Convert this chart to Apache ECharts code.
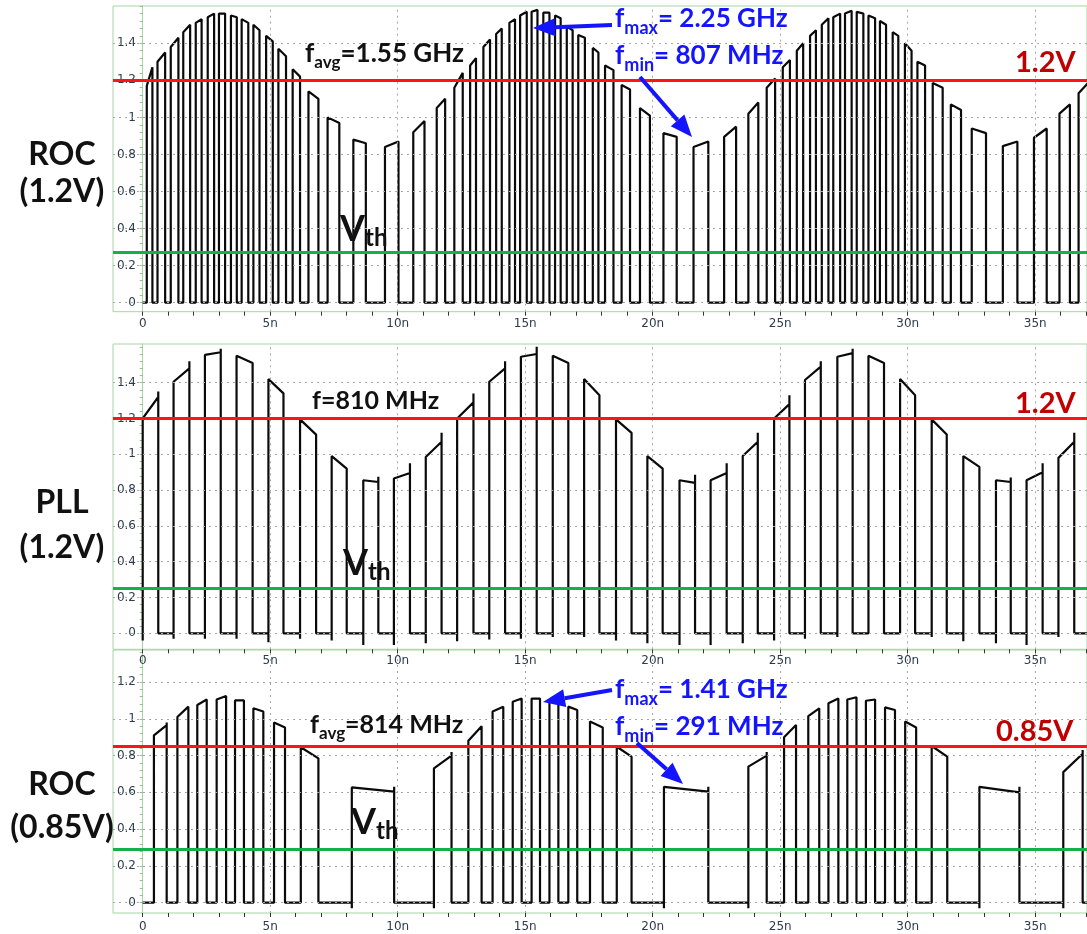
<!DOCTYPE html>
<html><head><meta charset="utf-8">
<script src="https://cdn.jsdelivr.net/npm/echarts@6/dist/echarts.min.js"></script>
<style>html,body{margin:0;padding:0;background:#fff}#c{width:1087px;height:934px}</style>
</head><body><div id="c"></div><script>
// ---------- axis ticks ----------
const xTickVals = [0, 5, 10, 15, 20, 25, 30, 35];
const xTickLabels = ['0', '5n', '10n', '15n', '20n', '25n', '30n', '35n'];
const yTickVals1 = [0, 0.2, 0.4, 0.6, 0.8, 1, 1.2, 1.4];
const yTickLabels1 = ['0', '0.2', '0.4', '0.6', '0.8', '1', '1.2', '1.4'];
const yTickVals3 = [0, 0.2, 0.4, 0.6, 0.8, 1, 1.2];
const yTickLabels3 = ['0', '0.2', '0.4', '0.6', '0.8', '1', '1.2'];

// ---------- reference levels ----------
const supplyLevels = [1.2, 1.2, 0.85];
const supplyLabels = ['1.2V', '1.2V', '0.85V'];
const vthLevels = [0.265, 0.253, 0.29];

// ---------- Panel 1 : ROC (1.2V) pulses (ns, V) ----------
const p1Rise = [0.16,0.58,1.10,1.59,2.08,2.55,2.99,3.46,3.88,4.34,4.84,5.32,5.88,6.50,7.25,8.26,9.50,10.61,11.53,12.22,12.84,13.36,13.86,14.38,14.80,15.25,15.71,16.17,16.63,17.08,17.65,18.13,18.78,19.50,20.42,21.60,22.80,23.75,24.47,25.10,25.65,26.17,26.63,27.08,27.54,28.00,28.46,28.91,29.41,29.89,30.38,30.98,31.69,32.51,33.73,34.95,35.95,36.70];
const p1Fall = [0.38,0.88,1.40,1.86,2.31,2.80,3.23,3.69,4.14,4.58,5.10,5.62,6.17,6.89,7.71,8.75,10.03,11.05,11.86,12.55,13.07,13.62,14.08,14.60,15.06,15.48,15.95,16.39,16.86,17.34,17.87,18.46,19.11,19.89,20.94,22.18,23.27,24.14,24.80,25.38,25.90,26.40,26.89,27.35,27.80,28.26,28.72,29.15,29.63,30.15,30.68,31.37,32.09,33.07,34.30,35.45,36.36,37.30];
const p1Start = [1.17,1.30,1.38,1.46,1.51,1.54,1.56,1.55,1.53,1.50,1.44,1.37,1.26,1.14,1.00,0.88,0.84,0.92,1.05,1.16,1.28,1.38,1.45,1.51,1.55,1.57,1.565,1.55,1.49,1.445,1.375,1.28,1.175,1.05,0.915,0.84,0.895,1.02,1.16,1.27,1.36,1.44,1.50,1.54,1.56,1.57,1.55,1.52,1.46,1.40,1.30,1.185,1.07,0.94,0.845,0.89,1.02,1.13];
const p1End = [1.27,1.35,1.43,1.50,1.53,1.56,1.56,1.54,1.51,1.47,1.41,1.33,1.22,1.10,0.97,0.86,0.87,0.98,1.10,1.24,1.32,1.42,1.48,1.53,1.57,1.58,1.565,1.535,1.47,1.43,1.35,1.255,1.15,1.01,0.895,0.87,0.95,1.08,1.21,1.31,1.40,1.47,1.535,1.56,1.575,1.56,1.535,1.50,1.44,1.36,1.28,1.16,1.04,0.915,0.87,0.94,1.07,1.22];

// ---------- Panel 2 : PLL (1.2V) pulses ----------
const p2Rise = [0.00,1.21,2.44,3.68,4.93,6.17,7.41,8.65,9.85,11.10,12.33,13.59,14.83,16.08,17.31,18.56,19.79,21.05,22.27,23.53,24.76,25.97,27.24,28.46,29.70,30.94,32.18,33.46,34.66,35.91];
const p2Fall = [0.61,1.83,3.06,4.31,5.52,6.80,8.00,9.24,10.48,11.72,12.97,14.21,15.45,16.69,17.91,19.17,20.39,21.66,22.90,24.12,25.36,26.59,27.84,29.07,30.29,31.53,32.81,34.04,35.29,36.53];
const p2Start = [1.20,1.405,1.555,1.55,1.42,1.195,0.99,0.855,0.865,0.985,1.20,1.405,1.545,1.55,1.42,1.195,0.99,0.855,0.855,0.99,1.20,1.415,1.545,1.55,1.42,1.195,0.99,0.855,0.855,0.98];
const p2End = [1.32,1.48,1.57,1.51,1.34,1.11,0.92,0.845,0.895,1.07,1.29,1.48,1.56,1.51,1.33,1.12,0.92,0.84,0.895,1.07,1.28,1.49,1.565,1.51,1.33,1.11,0.93,0.845,0.90,1.07];
const p2Spike = [1.35,1.52,1.59,1.51,1.34,1.11,0.92,0.875,0.95,1.12,1.34,1.52,1.60,1.51,1.33,1.12,0.92,0.885,0.95,1.12,1.33,1.52,1.59,1.51,1.33,1.11,0.93,0.87,0.95,1.12];
const p2Dip = [-0.04,-0.03,-0.03,-0.03,-0.05,-0.03,-0.04,-0.065,-0.065,-0.055,-0.045,-0.035,-0.03,-0.02,-0.02,-0.04,-0.055,-0.065,-0.065,-0.055,-0.04,-0.03,-0.02,-0.01,-0.01,-0.02,-0.045,-0.055,-0.065,-0.02];

// ---------- Panel 3 : ROC (0.85V) pulses ----------
const p3Rise = [0.44,1.36,2.14,2.90,3.62,4.34,5.15,6.20,8.20,11.42,12.77,13.72,14.51,15.25,15.95,16.69,17.54,18.59,20.44,23.75,25.15,26.10,26.89,27.63,28.36,29.11,29.90,30.94,32.81,36.10];
const p3Fall = [0.94,1.79,2.51,3.27,3.97,4.73,5.58,6.89,9.86,12.11,13.29,14.14,14.86,15.58,16.30,17.04,18.04,19.17,22.18,24.47,25.62,26.53,27.28,27.99,28.72,29.50,30.33,31.55,34.38,36.86];
const p3Start = [0.91,1.01,1.075,1.105,1.10,1.057,0.98,0.845,0.627,0.73,0.88,1.04,1.093,1.11,1.093,1.066,0.985,0.848,0.63,0.74,0.90,1.015,1.084,1.105,1.098,1.062,0.985,0.852,0.63,0.71];
const p3End = [0.966,1.066,1.105,1.124,1.10,1.04,0.953,0.785,0.604,0.80,0.96,1.066,1.11,1.11,1.088,1.048,0.953,0.794,0.604,0.80,0.966,1.057,1.11,1.117,1.105,1.048,0.953,0.794,0.60,0.81];
const p3Spike = [0.98,1.07,1.11,1.13,1.10,1.04,0.953,0.785,0.63,0.82,0.97,1.07,1.11,1.11,1.088,1.048,0.953,0.794,0.63,0.82,0.97,1.06,1.11,1.12,1.105,1.048,0.953,0.794,0.63,0.83];
const p3Dip = [-0.01,-0.01,-0.01,-0.01,-0.01,-0.01,-0.01,-0.01,-0.03,-0.03,-0.01,-0.01,-0.01,-0.01,-0.01,-0.01,-0.01,-0.01,-0.03,-0.03,-0.01,-0.01,-0.01,-0.01,-0.01,-0.01,-0.01,-0.01,-0.03,-0.03];

// ---------- layout ----------
const X_MIN = -1.165, X_MAX = 37.03;
const panels = [
  {top: 6, height: 305.7, ymin: -0.0486, ymax: 1.601, yv: yTickVals1, yl: yTickLabels1, labelMargin: 6,
   wave: [p1Rise, p1Fall, p1Start, p1End, null, null]},
  {top: 344, height: 305.3, ymin: -0.0894, ymax: 1.616, yv: yTickVals1, yl: yTickLabels1, labelMargin: 6,
   wave: [p2Rise, p2Fall, p2Start, p2End, p2Spike, p2Dip]},
  {top: 650, height: 263, ymin: -0.056, ymax: 1.374, yv: yTickVals3, yl: yTickLabels3, labelMargin: 8,
   wave: [p3Rise, p3Fall, p3Start, p3End, p3Spike, p3Dip]}
];

function buildWave(rise, fall, vs, ve, spike, dip) {
  const pts = [[0, 0]];
  for (let i = 0; i < rise.length; i++) {
    pts.push([rise[i], 0]);
    if (dip) pts.push([rise[i], dip[i]]);
    pts.push([rise[i], vs[i]]);
    pts.push([fall[i], ve[i]]);
    if (spike && spike[i] > ve[i]) pts.push([fall[i], spike[i]]);
    pts.push([fall[i], 0]);
  }
  if (fall[fall.length - 1] < X_MAX) pts.push([X_MAX, 0]);
  return pts;
}

const minorX = []; for (let t = 0; t <= 37; t++) minorX.push(t);
const GREEN_FRAME = '#a9d3a4';
const LABEL_COLOR = '#2d3b4c';

const grids = [], xAxes = [], yAxes = [], series = [];
panels.forEach((p, i) => {
  grids.push({left: 113, right: 0, top: p.top, height: p.height, show: true,
    borderColor: GREEN_FRAME, borderWidth: 1, backgroundColor: '#fff', containLabel: false});
  xAxes.push({type: 'value', gridIndex: i, min: X_MIN, max: X_MAX,
    axisLine: {show: false, onZero: false},
    axisTick: {show: true, customValues: minorX, length: 4, lineStyle: {color: '#333'}},
    axisLabel: {show: true, customValues: xTickVals, margin: p.labelMargin,
      formatter: v => xTickLabels[xTickVals.indexOf(v)] ?? '',
      color: LABEL_COLOR, fontFamily: 'DejaVu Sans', fontSize: 12},
    splitLine: {show: false}});
  const minorY = []; for (let k = 0; k <= Math.floor(p.ymax / 0.04); k++) minorY.push(+(k * 0.04).toFixed(2));
  yAxes.push({type: 'value', gridIndex: i, min: p.ymin, max: p.ymax,
    axisLine: {show: true, onZero: true, lineStyle: {color: GREEN_FRAME, width: 1}},
    axisTick: {show: true, customValues: minorY, length: 3, lineStyle: {color: '#8cc788'}},
    axisLabel: {show: true, customValues: p.yv, margin: -23,
      formatter: v => { const k = p.yv.findIndex(u => Math.abs(u - v) < 1e-6); return k >= 0 ? p.yl[k] : ''; },
      color: LABEL_COLOR, fontFamily: 'DejaVu Sans', fontSize: 12},
    splitLine: {show: false}});
  // dotted grid
  series.push({type: 'line', xAxisIndex: i, yAxisIndex: i, data: [[0, 0]], showSymbol: false,
    lineStyle: {width: 0}, z: 1, silent: true, animation: false,
    markLine: {silent: true, symbol: 'none', animation: false, label: {show: false},
      lineStyle: {type: [2, 4], color: '#a8a8a8', width: 1},
      data: xTickVals.filter(v => v > 0).map(v => ({xAxis: v})).concat(p.yv.map(v => ({yAxis: v})))}});
  // waveform
  const w = p.wave;
  series.push({type: 'line', xAxisIndex: i, yAxisIndex: i, data: buildWave(w[0], w[1], w[2], w[3], w[4], w[5]),
    showSymbol: false, symbol: 'none', lineStyle: {color: '#0a0a0a', width: 2.2}, z: 2, animation: false, clip: true});
  // supply & threshold lines
  series.push({type: 'line', xAxisIndex: i, yAxisIndex: i, data: [[0, 0]], showSymbol: false,
    lineStyle: {width: 0}, z: 3, silent: true, animation: false,
    markLine: {silent: true, symbol: 'none', animation: false, label: {show: false},
      data: [{yAxis: supplyLevels[i], lineStyle: {color: '#ff1414', width: 3, type: 'solid'}},
             {yAxis: vthLevels[i], lineStyle: {color: '#14b04a', width: 3, type: 'solid'}}]}});
});

// ---------- annotations ----------
const cv = document.createElement('canvas').getContext('2d');
function tw(txt, size) { cv.font = 'bold ' + size + 'px Lato'; return cv.measureText(txt).width; }
const graphics = [];
function rich(x, y, parts, color) {
  let cx = x;
  parts.forEach(pt => {
    graphics.push({type: 'text', x: cx, y: y + (pt.dy || 0), z: 10, silent: true,
      style: {text: pt.t, font: 'bold ' + pt.s + 'px Lato', fill: color, align: 'left', verticalAlign: 'middle'}});
    cx += tw(pt.t, pt.s);
  });
}
function centered(x, y, txt, size, color) {
  graphics.push({type: 'text', x: x, y: y, z: 10, silent: true,
    style: {text: txt, font: 'bold ' + size + 'px Lato', fill: color, align: 'center', verticalAlign: 'middle'}});
}
function arrow(x1, y1, x2, y2, color) {
  const dx = x2 - x1, dy = y2 - y1, L = Math.hypot(dx, dy), ux = dx / L, uy = dy / L;
  const hl = 22, hw = 9;
  const bx = x2 - ux * hl, by = y2 - uy * hl;
  graphics.push({type: 'line', z: 10, silent: true, shape: {x1: x1, y1: y1, x2: bx, y2: by},
    style: {stroke: color, lineWidth: 4}});
  graphics.push({type: 'polygon', z: 10, silent: true,
    shape: {points: [[x2, y2], [bx - uy * hw, by + ux * hw], [bx + uy * hw, by - ux * hw]]},
    style: {fill: color}});
}
const BLUE = '#1414ff', DRED = '#c00000', BLK = '#111';
// side labels
centered(62, 155, 'ROC', 32, BLK); centered(62, 192, '(1.2V)', 32, BLK);
centered(62, 503, 'PLL', 32, BLK); centered(62, 548, '(1.2V)', 32, BLK);
centered(62, 785, 'ROC', 32, BLK); centered(62, 828, '(0.85V)', 32, BLK);
// panel 1
rich(305, 54, [{t: 'f', s: 26}, {t: 'avg', s: 17, dy: 9}, {t: '=1.55 GHz', s: 26}], BLK);
rich(615, 19, [{t: 'f', s: 26}, {t: 'max', s: 18, dy: 9}, {t: '= 2.25 GHz', s: 26}], BLUE);
rich(615, 56, [{t: 'f', s: 26}, {t: 'min', s: 18, dy: 9}, {t: '= 807 MHz', s: 26}], BLUE);
rich(1015, 63, [{t: '1.2V', s: 29}], DRED);
rich(340, 229, [{t: 'V', s: 36}, {t: 'th', s: 24, dy: 9}], BLK);
arrow(612, 25, 533, 28, BLUE);
arrow(640, 77, 692, 137, BLUE);
// panel 2
rich(312, 401, [{t: 'f=810 MHz', s: 25}], BLK);
rich(1015, 404, [{t: '1.2V', s: 29}], DRED);
rich(343, 563, [{t: 'V', s: 36}, {t: 'th', s: 24, dy: 9}], BLK);
// panel 3
rich(310, 725, [{t: 'f', s: 25}, {t: 'avg', s: 17, dy: 9}, {t: '=814 MHz', s: 25}], BLK);
rich(615, 690, [{t: 'f', s: 26}, {t: 'max', s: 18, dy: 9}, {t: '= 1.41 GHz', s: 26}], BLUE);
rich(615, 727, [{t: 'f', s: 26}, {t: 'min', s: 18, dy: 9}, {t: '= 291 MHz', s: 26}], BLUE);
rich(996, 732, [{t: '0.85V', s: 29}], DRED);
rich(351, 822, [{t: 'V', s: 36}, {t: 'th', s: 24, dy: 9}], BLK);
arrow(612, 690, 543, 702, BLUE);
arrow(637, 743, 683, 784, BLUE);

const chart = echarts.init(document.getElementById('c'), null, {renderer: 'canvas'});
chart.setOption({
  animation: false, backgroundColor: '#fff',
  grid: grids, xAxis: xAxes, yAxis: yAxes, series: series, graphic: graphics
});
</script></body></html>
